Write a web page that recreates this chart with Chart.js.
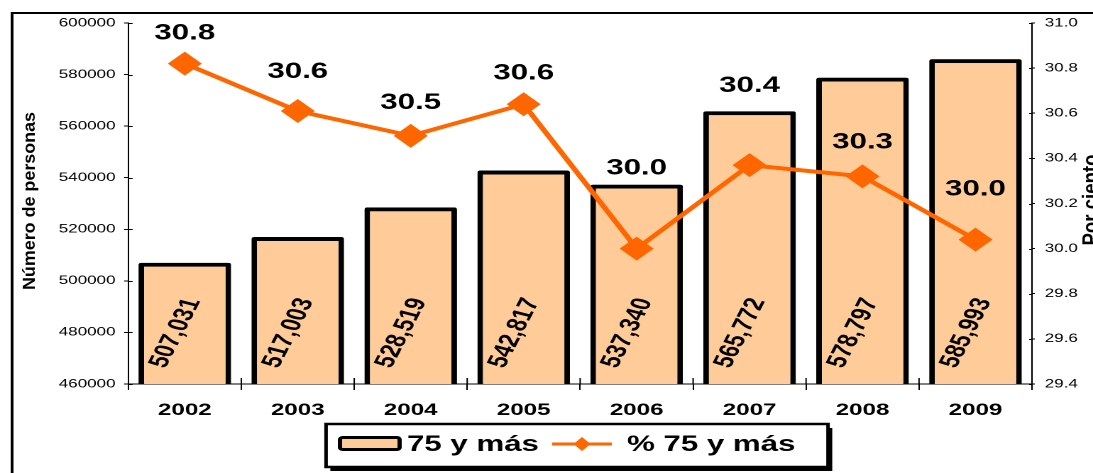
<!DOCTYPE html>
<html>
<head>
<meta charset="utf-8">
<script src="https://cdn.jsdelivr.net/npm/chart.js@4.4.0/dist/chart.umd.min.js"></script>
<style>
    html, body { margin: 0; padding: 0; background: #fff; overflow: hidden; }
    /* the original picture is stretched sideways, so draw narrow and stretch */
    #wrap { width: 770px; height: 473px; transform: scaleX(1.4195); transform-origin: 0 0; }
</style>
</head>
<body>
<div id="wrap"><canvas id="chart" width="770" height="473"></canvas></div>
<script>
const years = ['2002', '2003', '2004', '2005', '2006', '2007', '2008', '2009'];
const personas = [507031, 517003, 528519, 542817, 537340, 565772, 578797, 585993];
const porciento = [30.82, 30.61, 30.50, 30.64, 30.00, 30.37, 30.32, 30.04];
const leftTicks = { min: 460000, max: 600000, step: 20000 };
const rightTicks = { min: 29.4, max: 31.0, step: 0.2 };

// how far above each point its label sits (px)
const lineLabelLift = [30, 39, 33, 31, 80, 79, 34, 50];

const FONT = "Arial, 'Liberation Sans', sans-serif";
const ORANGE = '#FF6600';
const PEACH = '#FFCC99';

// Frame, axis titles, labels and legend
const extras = {
    id: 'extras',
    beforeDraw(chart) {
        const ctx = chart.ctx;
        ctx.save();
        ctx.strokeStyle = '#000';
        ctx.lineWidth = 2;
        ctx.beginPath();
        ctx.moveTo(8.5, 473);
        ctx.lineTo(8.5, 13);
        ctx.lineTo(770, 13);
        ctx.stroke();
        ctx.restore();
    },
    afterDraw(chart) {
        const ctx = chart.ctx;
        const area = chart.chartArea;
        const x = chart.scales.x;
        const y = chart.scales.y;
        const y1 = chart.scales.y1;

        ctx.save();
        ctx.strokeStyle = '#000';
        ctx.lineWidth = 1;
        // inner half of crossing tick marks
        ctx.beginPath();
        y.ticks.forEach(t => {
            const py = Math.round(y.getPixelForValue(t.value)) + 0.5;
            ctx.moveTo(area.left, py);
            ctx.lineTo(area.left + 3, py);
        });
        y1.ticks.forEach(t => {
            const py = Math.round(y1.getPixelForValue(t.value)) + 0.5;
            ctx.moveTo(area.right, py);
            ctx.lineTo(area.right - 2, py);
        });
        for (let i = 1; i < years.length; i++) {
            const px = (x.getPixelForValue(i - 1) + x.getPixelForValue(i)) / 2;
            ctx.moveTo(px, area.bottom);
            ctx.lineTo(px, area.bottom - 6);
        }
        ctx.stroke();

        // bar value labels, rotated
        const barMeta = chart.getDatasetMeta(0);
        ctx.fillStyle = '#000';
        ctx.font = 'bold 20px ' + FONT;
        ctx.textAlign = 'center';
        ctx.textBaseline = 'middle';
        barMeta.data.forEach((bar, i) => {
            ctx.save();
            ctx.translate(bar.x - 6.5, area.bottom - 51);
            ctx.rotate(-70 * Math.PI / 180);
            ctx.fillText(personas[i].toLocaleString('en-US'), 0, 0);
            ctx.restore();
        });

        // line value labels
        const lineMeta = chart.getDatasetMeta(1);
        ctx.font = 'bold 22px ' + FONT;
        lineMeta.data.forEach((pt, i) => {
            ctx.fillText(porciento[i].toFixed(1), pt.x, pt.y - lineLabelLift[i]);
        });

        // axis titles, squeezed along their length like the original
        const drawTitle = (text, cx, cy, font, length) => {
            ctx.save();
            ctx.font = font;
            const w = ctx.measureText(text).width;
            ctx.translate(cx, cy);
            ctx.rotate(-Math.PI / 2);
            ctx.scale(length / w, 1);
            ctx.textAlign = 'center';
            ctx.textBaseline = 'alphabetic';
            ctx.fillText(text, 0, 0);
            ctx.restore();
        };
        drawTitle('Número de personas', 24.5, 201, 'bold 12px ' + FONT, 178);
        drawTitle('Por ciento', 773.5, 200, 'bold 16px ' + FONT, 91);

        // legend
        const ds = chart.data.datasets;
        const bx = 229.7, by = 424, bw = 353.6, bh = 43;
        ctx.fillStyle = '#000';
        ctx.fillRect(bx + 3, by + 4, bw, bh);
        ctx.fillStyle = '#fff';
        ctx.fillRect(bx, by, bw, bh);
        ctx.lineWidth = 2.5;
        ctx.strokeStyle = '#000';
        ctx.strokeRect(bx, by, bw, bh);

        ctx.beginPath();
        ctx.roundRect(239.5, 437.5, 42, 12, 2);
        ctx.fillStyle = ds[0].backgroundColor;
        ctx.fill();
        ctx.lineWidth = 3;
        ctx.stroke();

        ctx.fillStyle = '#000';
        ctx.font = 'bold 22px ' + FONT;
        ctx.textAlign = 'left';
        ctx.fillText(ds[0].label, 286.7, 445);

        ctx.strokeStyle = ds[1].borderColor;
        ctx.lineWidth = 3;
        ctx.beginPath();
        ctx.moveTo(389, 444);
        ctx.lineTo(431, 444);
        ctx.stroke();
        ctx.fillStyle = ds[1].borderColor;
        ctx.beginPath();
        ctx.moveTo(410, 437);
        ctx.lineTo(416, 444);
        ctx.lineTo(410, 451);
        ctx.lineTo(404, 444);
        ctx.closePath();
        ctx.fill();

        ctx.fillStyle = '#000';
        ctx.fillText(ds[1].label, 441.7, 445);
        ctx.restore();
    }
};

const ctx = document.getElementById('chart').getContext('2d');
const chart = new Chart(ctx, {
    type: 'bar',
    data: {
        labels: years,
        datasets: [{
            label: '75 y más',
            data: personas,
            yAxisID: 'y',
            backgroundColor: PEACH,
            borderColor: '#000',
            borderWidth: 4,
            borderRadius: 2,
            borderSkipped: false,
            categoryPercentage: 1,
            barPercentage: 0.82,
            order: 1
        }, {
            type: 'line',
            label: '% 75 y más',
            data: porciento,
            yAxisID: 'y1',
            borderColor: ORANGE,
            backgroundColor: ORANGE,
            borderWidth: 4,
            tension: 0,
            pointStyle: 'rectRot',
            pointRadius: 12,
            pointBackgroundColor: ORANGE,
            pointBorderColor: ORANGE,
            pointBorderWidth: 0,
            order: 0
        }]
    },
    options: {
        responsive: false,
        animation: false,
        devicePixelRatio: 2,
        layout: { padding: { top: 23, left: 0, right: 0, bottom: 0 } },
        plugins: {
            legend: { display: false },
            tooltip: { enabled: false }
        },
        scales: {
            x: {
                grid: {
                    offset: true,
                    drawOnChartArea: false,
                    tickLength: 6,
                    color: '#000'
                },
                border: { color: '#000', width: 1 },
                ticks: {
                    color: '#000',
                    padding: 10,
                    font: { family: FONT, size: 17, weight: 'bold' }
                },
                afterFit(scale) { scale.height = 89; }
            },
            y: {
                position: 'left',
                min: leftTicks.min,
                max: leftTicks.max,
                grid: {
                    drawOnChartArea: false,
                    tickLength: 3,
                    color: '#000'
                },
                border: { color: '#000', width: 1 },
                ticks: {
                    stepSize: leftTicks.step,
                    color: '#000',
                    padding: 6,
                    font: { family: FONT, size: 12 },
                    callback: v => String(v)
                },
                afterFit(scale) { scale.width = 90.4; }
            },
            y1: {
                position: 'right',
                min: rightTicks.min,
                max: rightTicks.max,
                grid: {
                    drawOnChartArea: false,
                    tickLength: 2,
                    color: '#000'
                },
                border: { color: '#000', width: 1 },
                ticks: {
                    stepSize: rightTicks.step,
                    color: '#000',
                    padding: 7,
                    font: { family: FONT, size: 12 },
                    callback: v => Number(v).toFixed(1)
                },
                afterFit(scale) { scale.width = 43; }
            }
        }
    },
    plugins: [extras]
});
</script>
</body>
</html>
